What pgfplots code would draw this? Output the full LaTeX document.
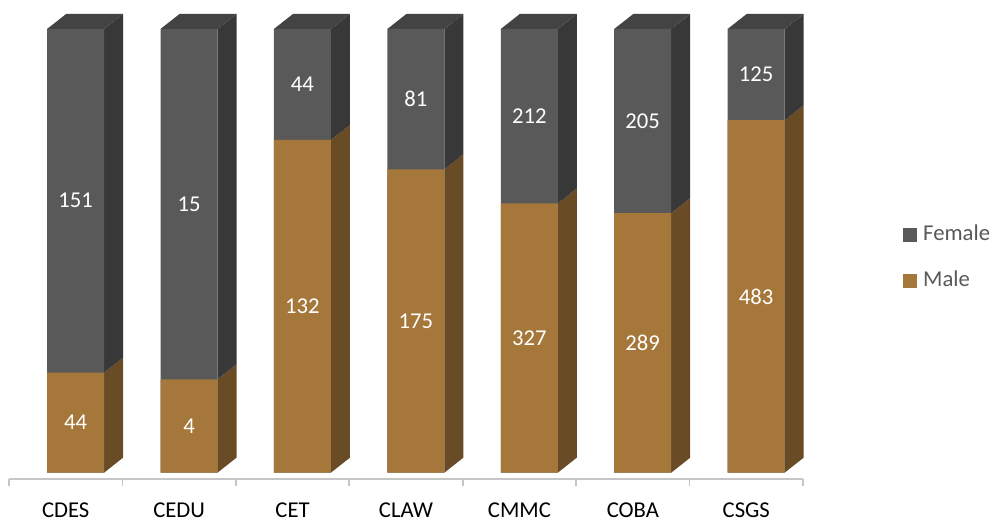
\documentclass[border=0pt]{standalone}
\usepackage{fontspec}
\setmainfont{Carlito}
\usepackage{pgfplots}
\usepackage{pgfplotstable}
\pgfplotsset{compat=1.18}

\definecolor{femfront}{HTML}{595959}
\definecolor{femside}{HTML}{383838}
\definecolor{femtop}{HTML}{434343}
\definecolor{malefront}{HTML}{A5773A}
\definecolor{maleside}{HTML}{694C26}
\definecolor{axisgray}{HTML}{C6C6C6}
\definecolor{legtext}{HTML}{595959}

% enrolment by college
\pgfplotstableread{
x name male female
0 CDES 44 151
1 CEDU 4 15
2 CET 132 44
3 CLAW 175 81
4 CMMC 327 212
5 COBA 289 205
6 CSGS 483 125
}\data

\newcommand\fshift{0.087}  % front face offset from category centre
\newcommand\bw{0.5025}     % front face width
\newcommand\dpx{0.1675}    % depth, x units
\newcommand\dpy{3.38}      % depth, y units

\newcommand\lblfont{\fontsize{17}{17}\selectfont}

\begin{document}
\begin{tikzpicture}
\begin{axis}[
  scale only axis, width=595.5pt, height=337.7pt,
  xmin=-0.5, xmax=6.5, ymin=-1.487, ymax=100,
  clip=false,
  axis x line=bottom, axis y line=none,
  axis line style={-, draw=axisgray, line width=1.2pt},
  xtick={0,...,6},
  xticklabels={CDES,CEDU,CET,CLAW,CMMC,COBA,CSGS},
  minor xtick={-0.5,0.5,...,6.5},
  major tick length=0pt, minor tick length=5.25pt, tick align=outside,
  minor tick style={draw=axisgray, line width=1.2pt},
  xticklabel style={anchor=base, yshift=-28.8pt, font=\lblfont, text=black},
  legend style={draw=none, fill=none, at={(1.1259,0.4903)}, anchor=west,
    font=\lblfont, text=legtext, inner sep=0pt, row sep=20.5pt, column sep=4.5pt,
    nodes={inner sep=0pt, text height=11pt, text depth=3pt}},
  legend cell align=left,
]
  % side and top faces of the 3d columns
  \pgfplotsinvokeforeach{0,...,6}{
    \pgfplotstablegetelem{#1}{male}\of\data \let\vm=\pgfplotsretval
    \pgfplotstablegetelem{#1}{female}\of\data \let\vf=\pgfplotsretval
    \pgfmathsetmacro\vp{\vm/(\vm+\vf)*100}
    \pgfmathsetmacro\vpt{\vp+\dpy}
    \pgfmathsetmacro\vht{100+\dpy}
    \pgfmathsetmacro\xa{#1+\fshift+\bw/2}
    \pgfmathsetmacro\xb{\xa+\dpx}
    \pgfmathsetmacro\xc{\xa-\bw}
    \pgfmathsetmacro\xd{\xb-\bw}
    \edef\tmp{%
      \noexpand\addplot[fill=maleside, draw=none, forget plot] coordinates {(\xa,0) (\xb,\dpy) (\xb,\vpt) (\xa,\vp)};
      \noexpand\addplot[fill=femside, draw=none, forget plot] coordinates {(\xa,\vp) (\xb,\vpt) (\xb,\vht) (\xa,100)};
      \noexpand\addplot[fill=femtop, draw=none, forget plot] coordinates {(\xc,100) (\xa,100) (\xb,\vht) (\xd,\vht)};
    }\tmp
  }

  % front faces
  \addplot[ybar, bar width=0.5025, bar shift=0pt, fill=femfront, draw=none,
    legend image code/.code={\fill[femfront] (0pt,-5.25pt) rectangle (10.5pt,5.25pt);}]
    table[x expr=\thisrow{x}+0.087, y expr=100] {\data};
  \addlegendentry{Female}
  \addplot[ybar, bar width=0.5025, bar shift=0pt, fill=malefront, draw=none,
    legend image code/.code={\fill[malefront] (0pt,-5.25pt) rectangle (10.5pt,5.25pt);}]
    table[x expr=\thisrow{x}+0.087,
          y expr={100*\thisrow{male}/(\thisrow{male}+\thisrow{female})}] {\data};
  \addlegendentry{Male}

  % value labels
  \addplot[draw=none, forget plot, point meta=explicit symbolic,
    nodes near coords={\pgfplotspointmeta},
    nodes near coords style={anchor=center, text=white, font=\lblfont}]
    table[x expr=\thisrow{x}+0.087,
          y expr={50*\thisrow{male}/(\thisrow{male}+\thisrow{female})},
          meta=male] {\data};
  \addplot[draw=none, forget plot, point meta=explicit symbolic,
    nodes near coords={\pgfplotspointmeta},
    nodes near coords style={anchor=center, text=white, font=\lblfont}]
    table[x expr=\thisrow{x}+0.087,
          y expr={50+50*\thisrow{male}/(\thisrow{male}+\thisrow{female})},
          meta=female] {\data};
\end{axis}
\pgfresetboundingbox
\path (current axis.south west) ++(-6.75pt,-32.8pt) rectangle ++(746.25pt,392.25pt);
\end{tikzpicture}
\end{document}
